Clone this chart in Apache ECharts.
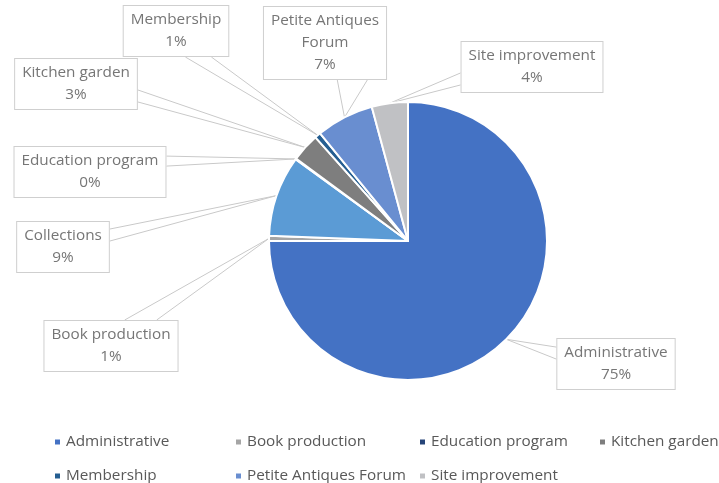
<!DOCTYPE html>
<html>
<head>
<meta charset="utf-8">
<script src="https://cdn.jsdelivr.net/npm/echarts@6/dist/echarts.min.js"></script>
<style>
  html, body { margin: 0; padding: 0; background: #fff; }
  #chart { width: 719px; height: 483px; }
</style>
</head>
<body>
<div id="chart"></div>
<script>
// slices, clockwise from 12 o'clock (alphabetical)
const categories = ['Administrative', 'Book production', 'Collections', 'Education program',
  'Kitchen garden', 'Membership', 'Petite Antiques Forum', 'Site improvement'];
const shares = [75.0, 0.6, 9.4, 0.1, 3.3, 0.7, 6.7, 4.2];
const colors = ['#4472C4', '#A5A5A5', '#5B9BD5', '#264478', '#7E7E7E', '#255E91', '#698ED0', '#C0C1C4'];
// the legend of the original only lists seven names (no Collections), in four columns
const legendColumns = [
  ['Administrative', 'Membership'],
  ['Book production', 'Petite Antiques Forum'],
  ['Education program', 'Site improvement'],
  ['Kitchen garden']
];
const legendLeft = [53, 234, 418, 598];

const FONT = 'Open Sans';

// callout boxes: centre, which edge the pointer leaves from, where on that edge, half width of pointer base
const callouts = {
  'Administrative':        { x: 616, y: 364, side: 'left',   at: 0.29, half: 6 },
  'Book production':       { x: 111, y: 346, side: 'top',    at: 0.72, half: 16 },
  'Education program':     { x: 90,  y: 172, side: 'right',  at: 0.29, half: 5 },
  'Collections':           { x: 63,  y: 247, side: 'right',  at: 0.27, half: 6 },
  'Kitchen garden':        { x: 76,  y: 84,  side: 'right',  at: 0.73, half: 6 },
  'Membership':            { x: 176, y: 31,  side: 'bottom', at: 0.71, half: 13 },
  'Petite Antiques Forum': { x: 325, y: 43,  side: 'bottom', at: 0.72, half: 15 },
  'Site improvement':      { x: 532, y: 67,  side: 'left',   at: 0.73, half: 6 }
};

const total = shares.reduce((s, v) => s + v, 0);

const chart = echarts.init(document.getElementById('chart'));

const option = {
  animation: false,
  color: colors,
  legend: legendColumns.map((names, i) => ({
    data: names,
    orient: 'vertical',
    left: legendLeft[i],
    top: 433,
    height: 80,
    padding: 0,
    itemWidth: 7,
    itemHeight: 7,
    itemGap: 16,
    icon: 'rect',
    selectedMode: false,
    textStyle: { fontFamily: FONT, fontSize: 15.3, color: '#595959', lineHeight: 18 }
  })),
  series: [
    {
      type: 'pie',
      center: [408, 241],
      radius: 139,
      startAngle: 90,
      clockwise: true,
      avoidLabelOverlap: false,
      itemStyle: { borderColor: '#fff', borderWidth: 2 },
      emphasis: { disabled: true },
      data: categories.map((name, i) => ({ name: name, value: shares[i] })),
      label: {
        show: true,
        position: 'outside',
        fontFamily: FONT,
        fontSize: 15.3,
        lineHeight: 22,
        color: '#767676',
        backgroundColor: '#fff',
        borderColor: '#CFCFCF',
        borderWidth: 1,
        padding: [3, 7],
        align: 'center',
        formatter: function (p) {
          const name = p.name === 'Petite Antiques Forum' ? 'Petite Antiques\nForum' : p.name;
          return name + '\n' + Math.round(p.value / total * 100) + '%';
        }
      },
      labelLine: {
        show: true,
        length: 10,
        length2: 10,
        lineStyle: { color: '#C9C9C9', width: 1 }
      },
      labelLayout: function (params) {
        const c = callouts[categories[params.dataIndex]];
        const w = params.labelRect.width;
        const h = params.labelRect.height;
        const left = c.x - w / 2;
        const top = c.y - h / 2;
        let a, b;
        if (c.side === 'left' || c.side === 'right') {
          const ex = c.side === 'left' ? left : left + w;
          const ey = top + h * c.at;
          a = [ex, ey - c.half];
          b = [ex, ey + c.half];
        } else {
          const ey = c.side === 'top' ? top : top + h;
          const ex = left + w * c.at;
          a = [ex - c.half, ey];
          b = [ex + c.half, ey];
        }
        const res = { x: c.x, y: c.y, align: 'center', verticalAlign: 'middle' };
        if (params.labelLinePoints && params.labelLinePoints.length) {
          res.labelLinePoints = [a, params.labelLinePoints[0], b];
        }
        return res;
      }
    }
  ]
};

chart.setOption(option);
</script>
</body>
</html>
